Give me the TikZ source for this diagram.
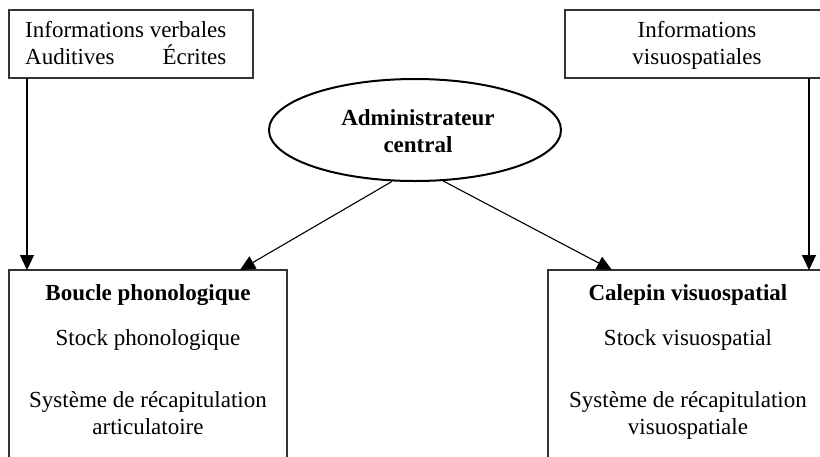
\documentclass[tikz,border=0pt]{standalone}
\usepackage{fontspec}
\setmainfont{Liberation Serif}
\usetikzlibrary{arrows.meta,shapes.geometric}
\begin{document}
\begin{tikzpicture}[x=1pt,y=-1pt,
  panel/.style={draw=black!80,line width=1.3pt,rectangle,inner sep=0pt,outer sep=0pt,anchor=north west},
  lbl/.style={inner sep=0pt,font=\fontsize{23}{27}\selectfont},
  blbl/.style={lbl,font=\fontsize{23}{27}\selectfont\bfseries},
  arr/.style={-{Triangle[length=15pt,width=14pt]},line width=1.1pt,black}]
\useasboundingbox (0,0) rectangle (820,456);
\clip (0,0) rectangle (820,456);

% input boxes
\node[panel,minimum width=244pt,minimum height=68pt] (tl) at (9,10) {};
\node[lbl,anchor=base west] (tl1) at (25,37) {Informations verbales};
\node[lbl,anchor=base west] (tl2) at (25,64) {Auditives};
\node[lbl,anchor=base east] (tl3) at (tl1.east |- 0,64) {Écrites};

\node[panel,minimum width=264pt,minimum height=68pt] (tr) at (565,10) {};
\node[lbl,anchor=base] (tr1) at (697,37) {Informations};
\node[lbl,anchor=base] (tr2) at (697,64) {visuospatiales};

% central executive
\node[ellipse,draw,line width=2pt,minimum width=292pt,minimum height=102pt,inner sep=0pt] (ce) at (415,130) {};
\node[blbl,anchor=base] (ce1) at (418,125) {Administrateur};
\node[blbl,anchor=base] (ce2) at (418,152) {central};

% slave systems
\node[panel,minimum width=278pt,minimum height=220pt] (bl) at (9,270) {};
\node[blbl,anchor=base] (bl1) at (148,300) {Boucle phonologique};
\node[lbl,anchor=base] (bl2) at (148,345) {Stock phonologique};
\node[lbl,anchor=base] (bl3) at (148,407) {Système de récapitulation};
\node[lbl,anchor=base] (bl4) at (148,434) {articulatoire};

\node[panel,minimum width=280pt,minimum height=220pt] (br) at (548,270) {};
\node[blbl,anchor=base] (br1) at (688,300) {Calepin visuospatial};
\node[lbl,anchor=base] (br2) at (688,345) {Stock visuospatial};
\node[lbl,anchor=base] (br3) at (688,407) {Système de récapitulation};
\node[lbl,anchor=base] (br4) at (688,434) {visuospatiale};

% arrow end points on the top edges
\coordinate (v1) at ([xshift=18pt]bl.north west);
\coordinate (d1) at ([xshift=231pt]bl.north west);
\coordinate (d2) at ([xshift=64pt]br.north west);
\coordinate (v2) at ([xshift=261pt]br.north west);

\draw[arr] (tl.south -| v1) -- (v1);
\draw[arr] (tr.south -| v2) -- (v2);
\draw[arr] (ce.246) -- (d1);
\draw[arr] (ce.299) -- (d2);
\end{tikzpicture}
\end{document}
